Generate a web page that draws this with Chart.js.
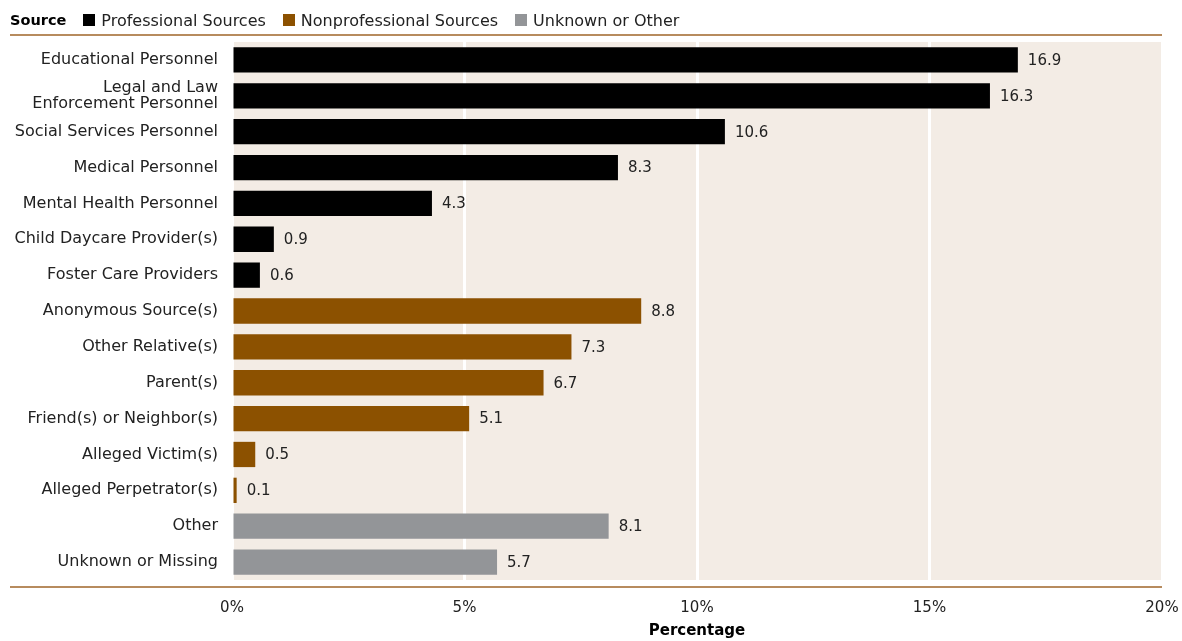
<!DOCTYPE html>
<html>
<head>
<meta charset="utf-8">
<script src="https://cdn.jsdelivr.net/npm/chart.js@4"></script>
<style>
  html, body { margin: 0; padding: 0; background: #fff; }
  #wrap { position: relative; width: 1182px; height: 641px; }
  #legend {
    position: absolute; left: 10px; top: 11px; height: 18px;
    display: flex; align-items: center;
    font: 16px "DejaVu Sans", sans-serif; color: #222; white-space: nowrap;
  }
  #legend b { font-size: 14.5px; font-weight: 700; color: #000; }
  #legend .sw { display: inline-block; width: 12px; height: 12px; margin: 0 6px 0 17px; }
</style>
</head>
<body>
<div id="wrap">
  <canvas id="c" width="1182" height="641"></canvas>
  <div id="legend">
    <b>Source</b>
    <span class="sw" style="background:#000"></span>Professional Sources
    <span class="sw" style="background:#8c5100"></span>Nonprofessional Sources
    <span class="sw" style="background:#939598"></span>Unknown or Other
  </div>
</div>
<script>
// report sources, share of all reports (%)
const categories = [
  "Educational Personnel",
  ["Legal and Law", "Enforcement Personnel"],
  "Social Services Personnel",
  "Medical Personnel",
  "Mental Health Personnel",
  "Child Daycare Provider(s)",
  "Foster Care Providers",
  "Anonymous Source(s)",
  "Other Relative(s)",
  "Parent(s)",
  "Friend(s) or Neighbor(s)",
  "Alleged Victim(s)",
  "Alleged Perpetrator(s)",
  "Other",
  "Unknown or Missing",
];
const percentages = [16.9, 16.3, 10.6, 8.3, 4.3, 0.9, 0.6, 8.8, 7.3, 6.7, 5.1, 0.5, 0.1, 8.1, 5.7];
const groups = ["pro", "pro", "pro", "pro", "pro", "pro", "pro", "non", "non", "non", "non", "non", "non", "unk", "unk"];
const xTicks = [0, 5, 10, 15, 20];

const GROUP_COLOR = { pro: "#000000", non: "#8c5100", unk: "#939598" };
const RULE = "#a0652a";
const FONT = "'DejaVu Sans', sans-serif";
const SIZE = 15;

// beige panel behind bars + the two brown rules
const panel = {
  id: "panel",
  beforeDraw(chart) {
    const { ctx, chartArea: a } = chart;
    ctx.save();
    ctx.fillStyle = "#f3ece5";
    ctx.fillRect(a.left, a.top, a.right - a.left, a.bottom - a.top);
    ctx.strokeStyle = RULE;
    ctx.lineWidth = 1.5;
    ctx.beginPath();
    ctx.moveTo(10, 35); ctx.lineTo(a.right, 35);
    ctx.moveTo(10, a.bottom + 7); ctx.lineTo(a.right, a.bottom + 7);
    ctx.stroke();
    ctx.restore();
  },
};

// value printed just past the end of each bar
const valueLabels = {
  id: "valueLabels",
  afterDatasetsDraw(chart) {
    const { ctx } = chart;
    ctx.save();
    ctx.font = `${SIZE}px ${FONT}`;
    ctx.fillStyle = "#222";
    ctx.textBaseline = "middle";
    chart.getDatasetMeta(0).data.forEach((bar, i) => {
      ctx.fillText(percentages[i].toFixed(1), bar.x + 10, bar.y + 1);
    });
    ctx.restore();
  },
};

new Chart(document.getElementById("c"), {
  type: "bar",
  data: {
    labels: categories,
    datasets: [{
      data: percentages,
      backgroundColor: groups.map((g) => GROUP_COLOR[g]),
      barPercentage: 0.705,
      categoryPercentage: 1,
    }],
  },
  options: {
    indexAxis: "y",
    responsive: false,
    animation: false,
    layout: { padding: { left: 10, right: 20, top: 42, bottom: 0 } },
    plugins: { legend: { display: false }, tooltip: { enabled: false } },
    scales: {
      x: {
        min: 0, max: 20,
        afterBuildTicks: (s) => { s.ticks = xTicks.map((v) => ({ value: v })); },
        afterFit: (s) => { s.height = 61; },
        border: { display: false },
        // invisible tick marks push the labels down without widening the side padding
        grid: { color: "#ffffff", lineWidth: 3, drawTicks: true, tickLength: 19, tickColor: "rgba(0,0,0,0)" },
        ticks: { padding: 0, color: "#222", font: { family: FONT, size: SIZE }, callback: (v) => v + "%" },
        title: { display: true, text: "Percentage", color: "#000", padding: { top: 0, bottom: 1 },
                 font: { family: FONT, size: SIZE, weight: "bold" } },
      },
      y: {
        afterFit: (s) => { s.width = 222; },
        border: { display: false },
        grid: { display: false, drawTicks: false },
        ticks: { padding: 14, color: "#222", font: { family: FONT, size: 16, lineHeight: 1.0 } },
      },
    },
  },
  plugins: [panel, valueLabels],
});
</script>
</body>
</html>
